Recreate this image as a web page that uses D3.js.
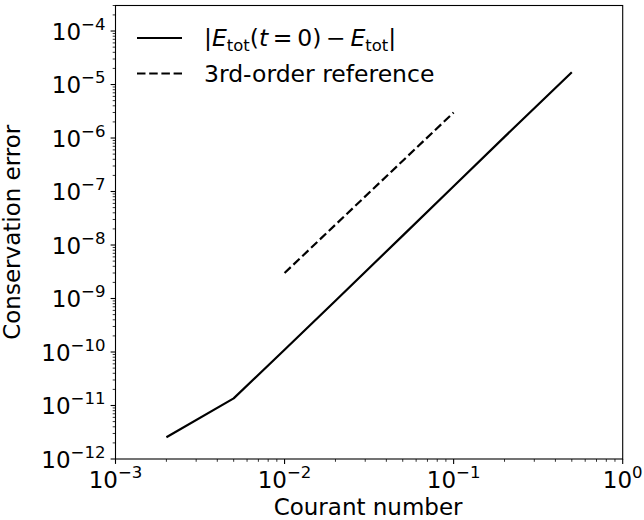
<!DOCTYPE html>
<html>
<head>
<meta charset="utf-8">
<script src="https://cdn.jsdelivr.net/npm/d3@7"></script>
<style>
  html, body { margin: 0; padding: 0; background: #fff; }
  svg { display: block; font-family: "DejaVu Sans", sans-serif; }
</style>
</head>
<body>
<svg id="chart" width="644" height="520"></svg>
<script>
// ---- data ----
const courant = [0.002, 0.005, 0.01, 0.02, 0.05, 0.1, 0.2, 0.5];
const energyError = [2.55e-12, 1.36e-11, 1.1e-10, 9.1e-10, 1.5e-8, 1.25e-7, 1.05e-6, 1.7e-5];
const refCourant = [0.01, 0.1];
const refError = [3e-9, 3e-6];
const xTickValues = [1e-3, 1e-2, 1e-1, 1e0];
const xTickExponents = ["\u22123", "\u22122", "\u22121", "0"];
const yTickValues = [1e-12, 1e-11, 1e-10, 1e-9, 1e-8, 1e-7, 1e-6, 1e-5, 1e-4];
const yTickExponents = ["\u221212", "\u221211", "\u221210", "\u22129", "\u22128", "\u22127", "\u22126", "\u22125", "\u22124"];
const xLabel = "Courant number";
const yLabel = "Conservation error";
const refLabel = "3rd-order reference";

// ---- layout ----
const L = 115.5, R = 622.7, T = 5.5, B = 459;
const svg = d3.select("#chart");

const x = d3.scaleLog().domain([1e-3, 1]).range([L, R]);
const y = d3.scaleLog().domain([1e-12, 3e-4]).range([B, T]);

function minors(lo, hi) {
  const out = [];
  for (let e = Math.floor(Math.log10(lo)); e <= Math.ceil(Math.log10(hi)); e++) {
    for (let m = 2; m <= 9; m++) {
      const v = m * Math.pow(10, e);
      if (v >= lo * 0.9999 && v <= hi * 1.0001) out.push(v);
    }
  }
  return out;
}

const fs = 23;
// x axis
const gx = svg.append("g");
gx.selectAll("line.minor").data(minors(1e-3, 1)).join("line")
  .attr("x1", d => x(d)).attr("x2", d => x(d))
  .attr("y1", B).attr("y2", B + 2.8)
  .attr("stroke", "#000").attr("stroke-width", 0.8);
gx.selectAll("line.major").data(xTickValues).join("line")
  .attr("x1", d => x(d)).attr("x2", d => x(d))
  .attr("y1", B).attr("y2", B + 4.9)
  .attr("stroke", "#000").attr("stroke-width", 1.1);
const xt = gx.selectAll("text").data(xTickValues).join("text")
  .attr("x", d => x(d)).attr("y", B + 29.3)
  .attr("text-anchor", "middle").attr("font-size", fs).attr("fill", "#000");
xt.append("tspan").text("10");
xt.append("tspan").attr("font-size", fs * 0.72).attr("dy", -fs * 0.44)
  .text((d, i) => xTickExponents[i]);

// y axis
const gy = svg.append("g");
gy.selectAll("line.minor").data(minors(1e-12, 3e-4)).join("line")
  .attr("x1", L - 2.8).attr("x2", L)
  .attr("y1", d => y(d)).attr("y2", d => y(d))
  .attr("stroke", "#000").attr("stroke-width", 0.8);
gy.selectAll("line.major").data(yTickValues).join("line")
  .attr("x1", L - 4.9).attr("x2", L)
  .attr("y1", d => y(d)).attr("y2", d => y(d))
  .attr("stroke", "#000").attr("stroke-width", 1.1);
const yt = gy.selectAll("text").data(yTickValues).join("text")
  .attr("x", L - 10).attr("y", d => y(d) + 8.7)
  .attr("text-anchor", "end").attr("font-size", fs).attr("fill", "#000");
yt.append("tspan").text("10");
yt.append("tspan").attr("font-size", fs * 0.72).attr("dy", -fs * 0.44)
  .text((d, i) => yTickExponents[i]);

// frame
svg.append("rect").attr("x", L).attr("y", T).attr("width", R - L).attr("height", B - T)
  .attr("fill", "none").attr("stroke", "#000").attr("stroke-width", 1.1);

// lines
const line = d3.line().x(d => x(d[0])).y(d => y(d[1]));
svg.append("path").datum(d3.zip(courant, energyError)).attr("d", line)
  .attr("fill", "none").attr("stroke", "#000").attr("stroke-width", 2.2)
  .attr("stroke-linejoin", "round");
svg.append("path").datum(d3.zip(refCourant, refError)).attr("d", line)
  .attr("fill", "none").attr("stroke", "#000").attr("stroke-width", 2.2)
  .attr("stroke-dasharray", "8.5,3.7");

// legend
const lfs = 23.5;
const leg = svg.append("g");
leg.append("line").attr("x1", 137).attr("x2", 182).attr("y1", 38).attr("y2", 38)
  .attr("stroke", "#000").attr("stroke-width", 2.2);
leg.append("line").attr("x1", 137).attr("x2", 182).attr("y1", 73.5).attr("y2", 73.5)
  .attr("stroke", "#000").attr("stroke-width", 2.2).attr("stroke-dasharray", "8.5,3.7");
const t1 = leg.append("text").attr("x", 204).attr("y", 46).attr("font-size", lfs).attr("fill", "#000");
t1.append("tspan").text("|");
t1.append("tspan").attr("font-style", "italic").text("E");
t1.append("tspan").attr("font-size", lfs * 0.7).attr("dy", lfs * 0.2).text("tot");
t1.append("tspan").attr("dy", -lfs * 0.2).text("(");
t1.append("tspan").attr("font-style", "italic").text("t");
t1.append("tspan").text("\u2009=\u20090)\u2009\u2212\u2009");
t1.append("tspan").attr("font-style", "italic").text("E");
t1.append("tspan").attr("font-size", lfs * 0.7).attr("dy", lfs * 0.2).text("tot");
t1.append("tspan").attr("dy", -lfs * 0.2).text("|");
leg.append("text").attr("x", 204).attr("y", 82).attr("font-size", lfs).attr("fill", "#000").text(refLabel);

// axis labels
svg.append("text").attr("x", (L + R) / 2 - 1).attr("y", 514.5).attr("text-anchor", "middle")
  .attr("font-size", 23).attr("fill", "#000").text(xLabel);
svg.append("text").attr("transform", `translate(20,${(T + B) / 2}) rotate(-90)`)
  .attr("text-anchor", "middle").attr("font-size", 23).attr("fill", "#000").text(yLabel);
</script>
</body>
</html>
